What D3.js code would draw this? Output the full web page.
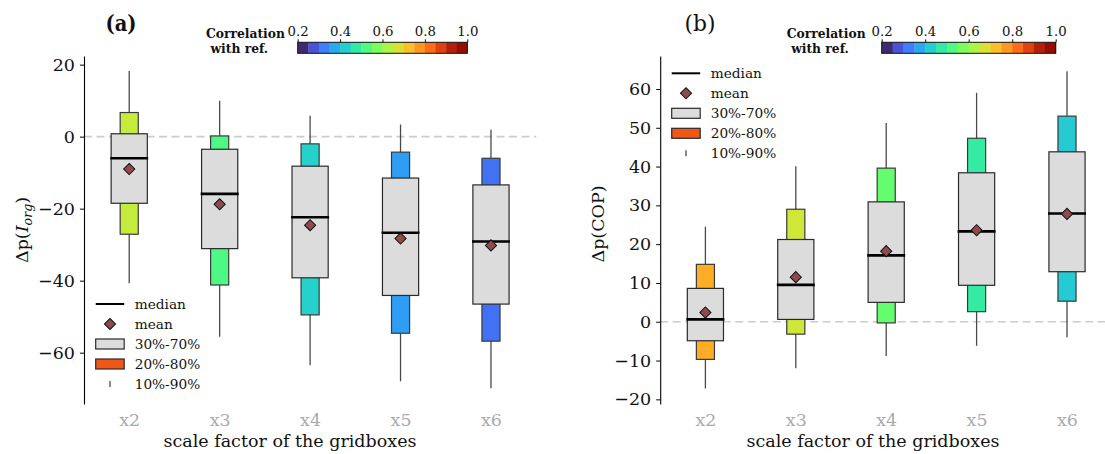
<!DOCTYPE html>
<html>
<head>
<meta charset="utf-8">
<script src="https://cdn.jsdelivr.net/npm/d3@7"></script>
<style>
  html, body { margin: 0; padding: 0; background: #fff; }
  svg { display: block; font-family: "DejaVu Serif", serif; }
</style>
</head>
<body>
<svg id="chart" width="1105" height="454"></svg>
<script>
// ---------- data ----------
const categories = ["x2", "x3", "x4", "x5", "x6"];

// panel (a): Δp(I_org)
const aP10    = [-40.7, -55.6, -63.5, -67.9, -69.9];
const aP20    = [-27.1, -41.2, -49.5, -54.6, -56.8];
const aP30    = [-18.5, -31.1, -39.2, -44.1, -46.5];
const aMedian = [-6.0, -15.9, -22.4, -26.7, -29.1];
const aMean   = [-9.0, -18.8, -24.6, -28.3, -30.2];
const aP70    = [0.8, -3.5, -8.2, -11.5, -13.4];
const aP80    = [6.7, 0.2, -2.0, -4.3, -6.0];
const aP90    = [18.2, 10.0, 5.8, 3.4, 1.9];
const aCorr   = [0.65, 0.52, 0.43, 0.36, 0.31];
const aTicks  = [20, 0, -20, -40, -60];

// panel (b): Δp(COP)
const bP10    = [-17.2, -12.0, -8.8, -6.2, -4.0];
const bP20    = [-9.7, -3.2, -0.3, 2.6, 5.3];
const bP30    = [-4.9, 0.6, 5.0, 9.4, 12.9];
const bMedian = [0.6, 9.5, 17.1, 23.3, 27.9];
const bMean   = [2.4, 11.5, 18.2, 23.6, 27.8];
const bP70    = [8.6, 21.2, 30.9, 38.4, 43.8];
const bP80    = [14.8, 29.0, 39.6, 47.3, 53.0];
const bP90    = [24.5, 40.1, 51.2, 59.0, 64.6];
const bCorr   = [0.75, 0.66, 0.55, 0.48, 0.42];
const bTicks  = [60, 50, 40, 30, 20, 10, 0, -10, -20];

const cbarTicks = [0.2, 0.4, 0.6, 0.8, 1.0];
const cbarBins = 16;
const legendLabels = ["median", "mean", "30%-70%", "20%-80%", "10%-90%"];

// ---------- helpers ----------
const svg = d3.select("#chart");
const corrNorm = d3.scaleLinear().domain([0.2, 1.0]).range([0, 1]);
const corrColor = c => d3.interpolateTurbo(corrNorm(c));

function rows(p10, p20, p30, med, mean, p70, p80, p90, corr) {
  return categories.map((c, i) => ({
    cat: c, pos: i + 1, p10: p10[i], p20: p20[i], p30: p30[i], med: med[i],
    mean: mean[i], p70: p70[i], p80: p80[i], p90: p90[i], corr: corr[i]
  }));
}

function drawPanel(cfg) {
  const { data, x, y, ticks, ylabel, xlabelX, title, titleBold, titleX, cbar, legend } = cfg;
  const g = svg.append("g");

  // zero dashed line
  g.append("line")
    .attr("x1", x(0.5)).attr("x2", x(5.5))
    .attr("y1", y(0)).attr("y2", y(0))
    .attr("stroke", "#cccccc").attr("stroke-width", 1.6)
    .attr("stroke-dasharray", "8,4.5");

  // whiskers
  g.selectAll(".wh").data(data).join("line")
    .attr("x1", d => x(d.pos)).attr("x2", d => x(d.pos))
    .attr("y1", d => y(d.p10)).attr("y2", d => y(d.p90))
    .attr("stroke", "#4a4a4a").attr("stroke-width", 1.3);

  const cw = 0.1, gw = 0.2, mw = 0.21;
  // 20-80 colored boxes
  g.selectAll(".cb").data(data).join("rect")
    .attr("x", d => x(d.pos - cw)).attr("width", d => x(d.pos + cw) - x(d.pos - cw))
    .attr("y", d => y(d.p80)).attr("height", d => y(d.p20) - y(d.p80))
    .attr("fill", d => corrColor(d.corr))
    .attr("stroke", "#3a3a3a").attr("stroke-width", 1.2);

  // 30-70 gray boxes
  g.selectAll(".gb").data(data).join("rect")
    .attr("x", d => x(d.pos - gw)).attr("width", d => x(d.pos + gw) - x(d.pos - gw))
    .attr("y", d => y(d.p70)).attr("height", d => y(d.p30) - y(d.p70))
    .attr("fill", "#dcdcdc")
    .attr("stroke", "#2a2a2a").attr("stroke-width", 1.2);

  // medians
  g.selectAll(".md").data(data).join("line")
    .attr("x1", d => x(d.pos - mw)).attr("x2", d => x(d.pos + mw))
    .attr("y1", d => y(d.med)).attr("y2", d => y(d.med))
    .attr("stroke", "#000").attr("stroke-width", 2.6);

  // means
  const diamond = d3.symbol().type(d3.symbolSquare).size(62);
  g.selectAll(".mn").data(data).join("path")
    .attr("d", diamond)
    .attr("transform", d => `translate(${x(d.pos)},${y(d.mean)}) rotate(45)`)
    .attr("fill", "#8e4a4c").attr("stroke", "#111").attr("stroke-width", 1);

  // y axis
  const yAxis = d3.axisLeft(y).tickValues(ticks).tickSize(4).tickSizeOuter(0).tickPadding(5)
    .tickFormat(d3.format("d"));
  const ya = g.append("g").attr("transform", `translate(${x(0.5)},0)`).call(yAxis);
  ya.select(".domain").attr("stroke", "#000").attr("stroke-width", 1.1);
  ya.selectAll(".tick line").attr("stroke", "#000");
  ya.selectAll(".tick text").attr("font-size", 17.5).attr("fill", "#111")
    .attr("font-family", "DejaVu Serif");

  // x axis labels (no spine)
  const xAxis = d3.axisBottom(x).tickValues([1, 2, 3, 4, 5]).tickSize(0).tickPadding(10)
    .tickFormat(d => categories[d - 1]);
  const xa = g.append("g").attr("transform", `translate(0,${y.range()[0]})`).call(xAxis);
  xa.select(".domain").remove();
  xa.selectAll(".tick text").attr("font-size", 17.5).attr("fill", "#aaaaaa")
    .attr("font-family", "DejaVu Serif");

  // x label
  g.append("text").attr("x", xlabelX).attr("y", 447)
    .attr("text-anchor", "middle").attr("font-size", 17.5).attr("fill", "#111")
    .text("scale factor of the gridboxes");

  // y label
  const yl = g.append("text")
    .attr("transform", `translate(${ylabel.x},${ylabel.y}) rotate(-90)`)
    .attr("text-anchor", "middle").attr("font-size", 17.5).attr("fill", "#111");
  ylabel.build(yl);

  // title
  g.append("text").attr("x", titleX).attr("y", 31).attr("text-anchor", "middle")
    .attr("font-size", 22.5).attr("font-weight", titleBold ? "bold" : "normal")
    .attr("textLength", 31).attr("lengthAdjust", "spacingAndGlyphs")
    .attr("fill", "#111").text(title);

  // colorbar
  const cx = d3.scaleLinear().domain([0.2, 1.0]).range([cbar.x0, cbar.x1]);
  const step = 0.8 / cbarBins;
  const bins = d3.range(cbarBins).map(i => ({ lo: 0.2 + i * step, hi: 0.2 + (i + 1) * step, t: (i + 0.5) / cbarBins }));
  const cg = g.append("g");
  cg.selectAll("rect").data(bins).join("rect")
    .attr("x", d => cx(d.lo)).attr("width", d => cx(d.hi) - cx(d.lo) + 0.4)
    .attr("y", 42.3).attr("height", 11)
    .attr("fill", d => d3.interpolateTurbo(d.t));
  cg.append("rect").attr("x", cx(0.2)).attr("y", 42.3)
    .attr("width", cx(1.0) - cx(0.2)).attr("height", 11)
    .attr("fill", "none").attr("stroke", "#111").attr("stroke-width", 1);
  const cAxis = d3.axisTop(cx).tickValues(cbarTicks).tickSize(3).tickSizeOuter(0).tickPadding(3)
    .tickFormat(d3.format(".1f"));
  const ca = cg.append("g").attr("transform", "translate(0,42.3)").call(cAxis);
  ca.select(".domain").remove();
  ca.selectAll(".tick line").attr("stroke", "#111");
  ca.selectAll(".tick text").attr("font-size", 13.3).attr("fill", "#111")
    .attr("font-family", "DejaVu Serif");
  cg.append("text").attr("x", cbar.lx).attr("y", 37.5).attr("font-size", 12.3)
    .attr("font-weight", "bold").attr("fill", "#111").text("Correlation");
  cg.append("text").attr("x", cbar.lx + 4.5).attr("y", 53).attr("font-size", 12.3)
    .attr("font-weight", "bold").attr("fill", "#111").text("with ref.");

  // legend
  const lg = g.append("g");
  const hx0 = legend.x, hx1 = legend.x + 28.5, hc = legend.x + 14.3, tx = legend.x + 39;
  const ry = i => legend.y + i * 20;
  lg.append("line").attr("x1", hx0).attr("x2", hx1).attr("y1", ry(0)).attr("y2", ry(0))
    .attr("stroke", "#000").attr("stroke-width", 2);
  lg.append("path").attr("d", diamond)
    .attr("transform", `translate(${hc},${ry(1)}) rotate(45)`)
    .attr("fill", "#8e4a4c").attr("stroke", "#111").attr("stroke-width", 1);
  lg.append("rect").attr("x", hx0).attr("y", ry(2) - 5).attr("width", hx1 - hx0).attr("height", 10)
    .attr("fill", "#dcdcdc").attr("stroke", "#2a2a2a").attr("stroke-width", 1.2);
  lg.append("rect").attr("x", hx0).attr("y", ry(3) - 5).attr("width", hx1 - hx0).attr("height", 10)
    .attr("fill", d3.interpolateTurbo(0.8125)).attr("stroke", "#2a2a2a").attr("stroke-width", 1.2);
  lg.append("line").attr("x1", hc).attr("x2", hc).attr("y1", ry(4) - 3).attr("y2", ry(4) + 3)
    .attr("stroke", "#4a4a4a").attr("stroke-width", 1.3);
  lg.selectAll(".lt").data(legendLabels).join("text")
    .attr("x", tx).attr("y", (d, i) => ry(i)).attr("dy", "0.35em")
    .attr("font-size", 13.7).attr("fill", "#111").text(d => d);
}

// ---------- panel (a) ----------
drawPanel({
  data: rows(aP10, aP20, aP30, aMedian, aMean, aP70, aP80, aP90, aCorr),
  x: d3.scaleLinear().domain([0.5, 5.5]).range([84, 536.2]),
  y: d3.scaleLinear().domain([-74.25, 22.4]).range([404, 56]),
  ticks: aTicks,
  xlabelX: 290,
  title: "(a)", titleBold: true, titleX: 121,
  cbar: { x0: 297.7, x1: 467.3, lx: 206 },
  legend: { x: 95.7, y: 304 },
  ylabel: {
    x: 28, y: 230,
    build: t => {
      t.append("tspan").text("Δp(");
      t.append("tspan").attr("font-style", "italic").text("I");
      t.append("tspan").attr("font-style", "italic").attr("font-size", 12.5).attr("dy", 4).text("org");
      t.append("tspan").attr("dy", -4).text(")");
    }
  }
});

// ---------- panel (b) ----------
drawPanel({
  data: rows(bP10, bP20, bP30, bMedian, bMean, bP70, bP80, bP90, bCorr),
  x: d3.scaleLinear().domain([0.5, 5.5]).range([660.2, 1112.2]),
  y: d3.scaleLinear().domain([-21.2, 68.5]).range([404, 56]),
  ticks: bTicks,
  xlabelX: 873,
  title: "(b)", titleBold: false, titleX: 700,
  cbar: { x0: 881.7, x1: 1055.7, lx: 786.7 },
  legend: { x: 671.7, y: 73.3 },
  ylabel: {
    x: 604, y: 224,
    build: t => { t.text("Δp(COP)"); }
  }
});
</script>
</body>
</html>
